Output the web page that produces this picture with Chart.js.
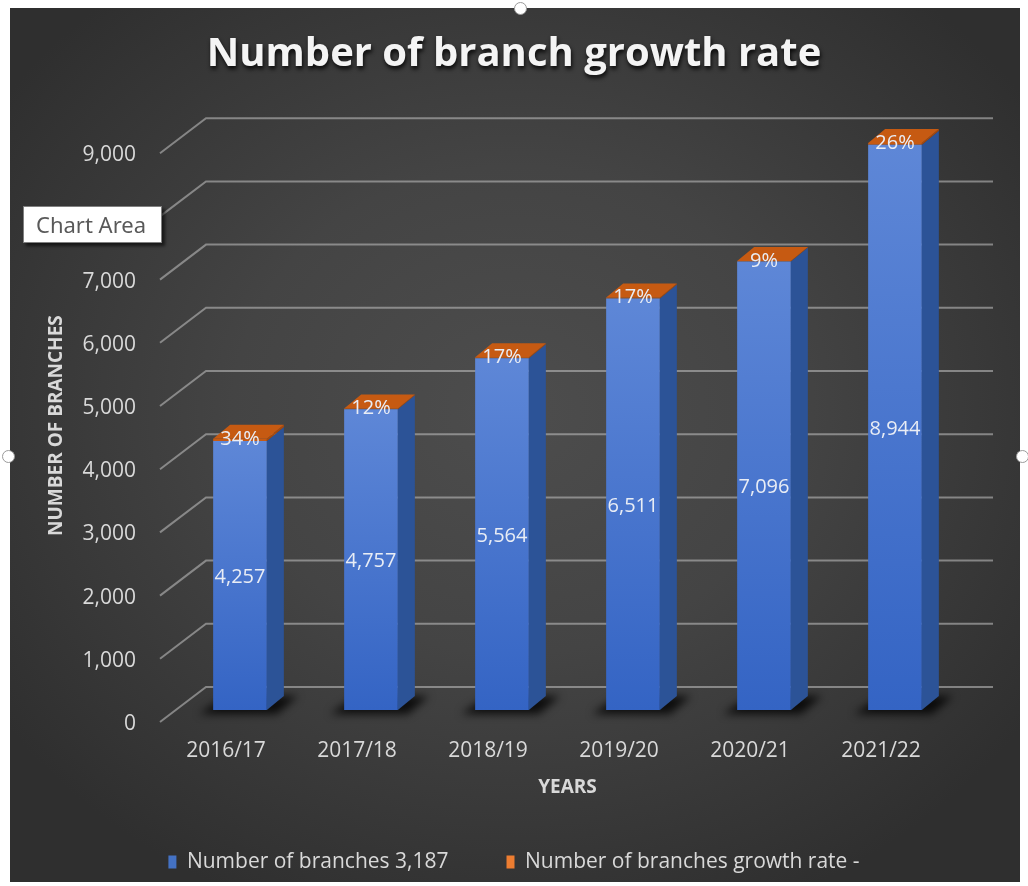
<!DOCTYPE html>
<html>
<head>
<meta charset="utf-8">
<title>Number of branch growth rate</title>
<script src="https://cdn.jsdelivr.net/npm/chart.js@4.4.1/dist/chart.umd.min.js"></script>
<style>
  html, body { margin: 0; padding: 0; background: #fff; }
  #wrap { position: relative; width: 1028px; height: 886px; overflow: hidden; }
  #panel {
    position: absolute; left: 10px; top: 8px; width: 1010px; height: 874px;
    background: radial-gradient(ellipse 62% 62% at 50% 46%, #4d4d4d 0%, #444 45%, #2f2f2f 100%);
  }
  #chart { position: absolute; left: 0; top: 0; }
  .tip {
    position: absolute; left: 23px; top: 206px; width: 139px; height: 37px;
    background: #fff; border: 1px solid #808080; box-shadow: 3px 3px 3px rgba(0,0,0,0.6);
    font: 22px "Noto Sans", sans-serif; color: #595959; line-height: 35px;
    padding-left: 12px; box-sizing: border-box;
  }
  .handle {
    position: absolute; width: 11px; height: 11px; border-radius: 50%;
    background: #fff; border: 1px solid #9a9a9a;
  }
</style>
</head>
<body>
<div id="wrap">
  <div id="panel"></div>
  <canvas id="chart" width="1028" height="886"></canvas>
  <div class="tip">Chart Area</div>
  <div class="handle" style="left:514px; top:2px;"></div>
  <div class="handle" style="left:2px; top:450px;"></div>
  <div class="handle" style="left:1016px; top:450px;"></div>
</div>
<script>
const years = ['2016/17', '2017/18', '2018/19', '2019/20', '2020/21', '2021/22'];
const branches = [4257, 4757, 5564, 6511, 7096, 8944];
const growthRate = [34, 12, 17, 17, 9, 26];
const branchesLabel = 'Number of branches 3,187';
const growthLabel = 'Number of branches growth rate -';
const yMax = 9000;
const yStep = 1000;

const textColor = '#d9d9d9';
const depthX = 17;
const depthY = 14;

// vertical gradient on each bar's front face
function frontFill(context) {
  const chart = context.chart;
  const y = chart.scales.y;
  if (!chart.chartArea || !y) return '#4472c4';
  const top = y.getPixelForValue(branches[context.dataIndex]);
  const bottom = y.getPixelForValue(0);
  const g = chart.ctx.createLinearGradient(0, top, 0, bottom);
  g.addColorStop(0, '#5e87d7');
  g.addColorStop(1, '#3464c4');
  return g;
}

// drop shadow under the title text only
const titleShadow = {
  id: 'titleShadow',
  beforeDraw(chart) {
    const tb = chart.titleBlock;
    if (!tb || tb._shadowed) return;
    const draw = tb.draw.bind(tb);
    tb.draw = function () {
      const ctx = chart.ctx;
      ctx.save();
      ctx.shadowColor = 'rgba(0,0,0,0.85)';
      ctx.shadowBlur = 4;
      ctx.shadowOffsetX = 1;
      ctx.shadowOffsetY = 3;
      draw();
      ctx.restore();
    };
    tb._shadowed = true;
  }
};

// back wall gridlines, floor shadow, then side/top faces of the columns
const threeD = {
  id: 'threeD',
  beforeDatasetsDraw(chart) {
    const { ctx, chartArea, scales: { y } } = chart;
    ctx.save();
    ctx.strokeStyle = 'rgba(185,185,185,0.6)';
    ctx.lineWidth = 2;
    y.ticks.forEach(t => {
      const py = y.getPixelForValue(t.value);
      ctx.beginPath();
      ctx.moveTo(chartArea.left - 14.5, py + 12);
      ctx.lineTo(chartArea.left + 31.5, py - 23);
      ctx.lineTo(chartArea.right + 32.5, py - 23);
      ctx.stroke();
    });
    ctx.filter = 'blur(4px)';
    ctx.fillStyle = 'rgba(0,0,0,0.8)';
    chart.getDatasetMeta(0).data.forEach(bar => {
      const l = bar.x - bar.width / 2, r = bar.x + bar.width / 2;
      ctx.beginPath();
      ctx.moveTo(l - 14, bar.base + 4);
      ctx.lineTo(r + 10, bar.base + 4);
      ctx.lineTo(r + depthX + 14, bar.base - depthY);
      ctx.lineTo(l + depthX - 4, bar.base - depthY);
      ctx.closePath();
      ctx.fill();
    });
    ctx.restore();
  },
  afterDatasetsDraw(chart) {
    const { ctx } = chart;
    ctx.save();
    const sides = ['#2c5397', '#a8490d'];
    chart.data.datasets.forEach((ds, di) => {
      chart.getDatasetMeta(di).data.forEach(bar => {
        const l = bar.x - bar.width / 2, r = bar.x + bar.width / 2;
        const top = bar.y, bottom = bar.base;
        ctx.fillStyle = sides[di];
        ctx.beginPath();
        ctx.moveTo(r, bottom);
        ctx.lineTo(r, top);
        ctx.lineTo(r + depthX, top - depthY);
        ctx.lineTo(r + depthX, bottom - depthY);
        ctx.closePath();
        ctx.fill();
        if (di === chart.data.datasets.length - 1) {
          ctx.fillStyle = '#c65a12';
          ctx.beginPath();
          ctx.moveTo(l, top);
          ctx.lineTo(r, top);
          ctx.lineTo(r + depthX, top - depthY);
          ctx.lineTo(l + depthX, top - depthY);
          ctx.closePath();
          ctx.fill();
        }
      });
    });
    ctx.restore();
  }
};

// value labels: branch counts centred in the bar, growth rate on top
const valueLabels = {
  id: 'valueLabels',
  afterDatasetsDraw(chart) {
    const { ctx } = chart;
    ctx.save();
    ctx.font = '20px "Open Sans", sans-serif';
    ctx.fillStyle = '#e9edf5';
    ctx.textAlign = 'center';
    ctx.textBaseline = 'middle';
    chart.getDatasetMeta(0).data.forEach((bar, i) => {
      ctx.fillText(branches[i].toLocaleString('en-US'), bar.x, (bar.y + bar.base) / 2 + 2);
    });
    chart.getDatasetMeta(1).data.forEach((bar, i) => {
      ctx.fillText(growthRate[i] + '%', bar.x, bar.y);
    });
    ctx.restore();
  }
};

new Chart(document.getElementById('chart'), {
  type: 'bar',
  data: {
    labels: years,
    datasets: [
      {
        label: branchesLabel,
        data: branches,
        backgroundColor: frontFill,
        borderWidth: 0
      },
      {
        label: growthLabel,
        data: growthRate,
        backgroundColor: '#c65a12',
        borderWidth: 0
      }
    ]
  },
  options: {
    responsive: false,
    animation: false,
    barPercentage: 0.41,
    categoryPercentage: 1,
    layout: { padding: { top: 0, right: 0, bottom: 3.5, left: 0 } },
    scales: {
      x: {
        stacked: true,
        grid: { display: false, drawTicks: false },
        border: { display: false },
        ticks: {
          color: textColor,
          font: { family: 'Open Sans', size: 21 },
          padding: 28,
          labelOffset: -14
        },
        title: {
          display: true,
          text: 'YEARS',
          color: textColor,
          font: { family: 'Open Sans', size: 19, weight: 'bold' },
          padding: { top: 0, bottom: -5 }
        },
        afterFit: scale => { scale.height = 83.5; }
      },
      y: {
        stacked: true,
        min: 0,
        max: yMax,
        grid: { display: false, drawTicks: false },
        border: { display: false },
        ticks: {
          stepSize: yStep,
          color: textColor,
          font: { family: 'Open Sans', size: 21 },
          padding: 38.5,
          labelOffset: 14,
          callback: v => v.toLocaleString('en-US')
        },
        title: {
          display: true,
          text: 'NUMBER OF BRANCHES',
          color: textColor,
          font: { family: 'Open Sans', size: 19, weight: 'bold' },
          padding: { top: 45.6, bottom: 0 }
        },
        afterFit: scale => { scale.width = 174.5; }
      },
      // empty right-hand axis that only reserves the space right of the back wall
      yRight: {
        position: 'right',
        min: 0,
        max: yMax,
        grid: { display: false, drawTicks: false },
        border: { display: false },
        ticks: { display: false },
        afterFit: scale => { scale.width = 67.5; }
      }
    },
    plugins: {
      title: {
        display: true,
        text: 'Number of branch growth rate',
        color: '#f4f4f4',
        font: { family: 'Open Sans', size: 40, weight: 'bold' },
        padding: { top: 31, bottom: 62.2 }
      },
      legend: {
        position: 'bottom',
        labels: {
          color: textColor,
          font: { family: 'Open Sans', size: 21 },
          boxWidth: 8,
          boxHeight: 13,
          padding: 58,
          generateLabels: chart => {
            const items = Chart.defaults.plugins.legend.labels.generateLabels(chart);
            const fills = ['#4472c4', '#ed7d31'];
            items.forEach((it, i) => { it.fillStyle = fills[i]; it.lineWidth = 0; it.strokeStyle = fills[i]; });
            return items;
          }
        }
      },
      tooltip: { enabled: false }
    }
  },
  plugins: [titleShadow, threeD, valueLabels]
});
</script>
</body>
</html>
